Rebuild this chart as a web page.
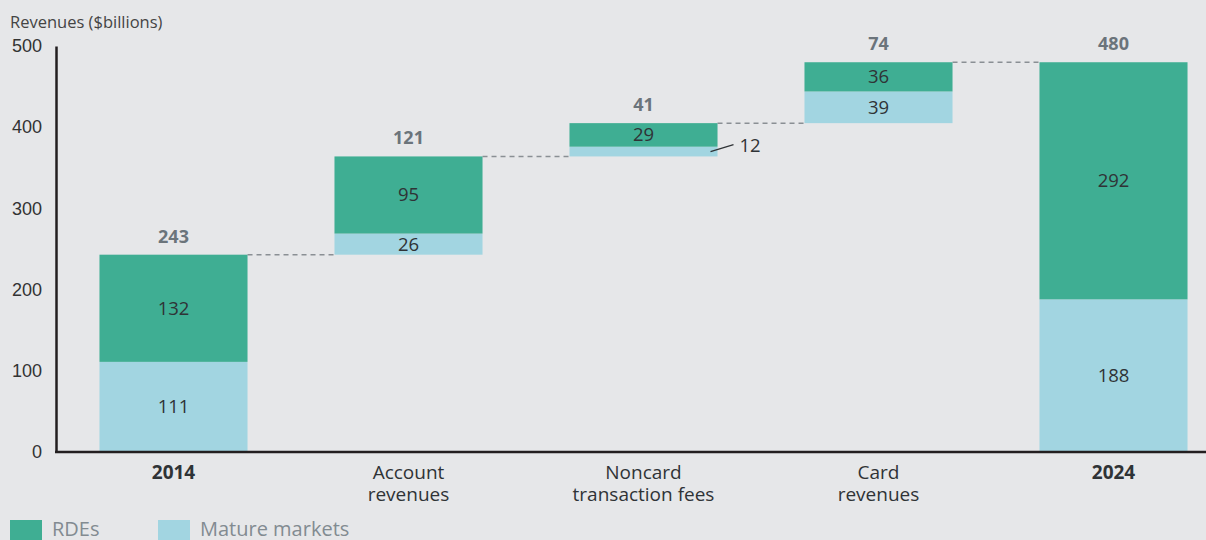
<!DOCTYPE html>
<html>
<head>
<meta charset="utf-8">
<script src="https://cdn.jsdelivr.net/npm/d3@7"></script>
<style>
  body { margin: 0; background: #e6e7e9; }
  svg { display: block; font-family: 'Open Sans', 'Noto Sans', sans-serif; }
</style>
</head>
<body>
<div id="chart"></div>
<script>
// data
let categories = ['2014', 'Account\nrevenues', 'Noncard\ntransaction fees', 'Card\nrevenues', '2024']
let boldCats = ['2014', '2024']
let mature = [111, 26, 12, 39, 188]
let rdes = [132, 95, 29, 36, 292]
let totals = [243, 121, 41, 74, 480]
// waterfall bases (start of each step)
let bases = [0, 243, 364, 405, 0]
let yTicks = [0, 100, 200, 300, 400, 500]

let width = 1206
let height = 540
let margin = { top: 46, left: 56, right: 0, bottom: 88 }

let green = '#3fae93'
let blue = '#a2d5e1'

let svg = d3
  .select('#chart')
  .append('svg')
  .attr('width', width)
  .attr('height', height)

svg.append('rect').attr('width', width).attr('height', height).attr('fill', '#e6e7e9')

let xPositionScale = d3
  .scaleBand()
  .domain(categories)
  .range([margin.left, margin.left + 5 * 235])
  .paddingInner(0.37)
  .paddingOuter(0.185)

let yPositionScale = d3
  .scaleLinear()
  .domain([0, 500])
  .range([height - margin.bottom, margin.top])

// title
svg
  .append('text')
  .attr('x', 10)
  .attr('y', 28)
  .attr('font-size', 16.5)
  .attr('fill', '#444')
  .text('Revenues ($billions)')

let rows = categories.map((c, i) => ({
  cat: c,
  base: bases[i],
  mature: mature[i],
  rdes: rdes[i],
  total: totals[i]
}))

// dashed connectors
for (let i = 0; i < rows.length - 1; i++) {
  let top = rows[i].base + rows[i].mature + rows[i].rdes
  svg
    .append('line')
    .attr('x1', xPositionScale(rows[i].cat) + xPositionScale.bandwidth())
    .attr('x2', xPositionScale(rows[i + 1].cat))
    .attr('y1', yPositionScale(top))
    .attr('y2', yPositionScale(top))
    .attr('stroke', '#8a8f94')
    .attr('stroke-width', 1.5)
    .attr('stroke-dasharray', '5,4')
}

// mature segments
svg
  .selectAll('.mature')
  .data(rows)
  .enter()
  .append('rect')
  .attr('class', 'mature')
  .attr('x', d => xPositionScale(d.cat))
  .attr('width', xPositionScale.bandwidth())
  .attr('y', d => yPositionScale(d.base + d.mature))
  .attr('height', d => yPositionScale(d.base) - yPositionScale(d.base + d.mature))
  .attr('fill', blue)

// RDE segments
svg
  .selectAll('.rdes')
  .data(rows)
  .enter()
  .append('rect')
  .attr('class', 'rdes')
  .attr('x', d => xPositionScale(d.cat))
  .attr('width', xPositionScale.bandwidth())
  .attr('y', d => yPositionScale(d.base + d.mature + d.rdes))
  .attr('height', d => yPositionScale(d.base + d.mature) - yPositionScale(d.base + d.mature + d.rdes))
  .attr('fill', green)

let cx = d => xPositionScale(d.cat) + xPositionScale.bandwidth() / 2

// inside labels
svg
  .selectAll('.rde-label')
  .data(rows)
  .enter()
  .append('text')
  .attr('x', cx)
  .attr('y', d => yPositionScale(d.base + d.mature + d.rdes / 2))
  .attr('dy', '0.35em')
  .attr('text-anchor', 'middle')
  .attr('font-size', 18.5)
  .attr('fill', '#2f3336')
  .text(d => d.rdes)

svg
  .selectAll('.mature-label')
  .data(rows.filter(d => d.mature > 15))
  .enter()
  .append('text')
  .attr('x', cx)
  .attr('y', d => yPositionScale(d.base + d.mature / 2))
  .attr('dy', '0.35em')
  .attr('text-anchor', 'middle')
  .attr('font-size', 18.5)
  .attr('fill', '#2f3336')
  .text(d => d.mature)

// small segment label with leader line
rows
  .filter(d => d.mature <= 15)
  .forEach(d => {
    let right = xPositionScale(d.cat) + xPositionScale.bandwidth()
    let ym = yPositionScale(d.base + d.mature / 2)
    svg
      .append('line')
      .attr('x1', right - 7)
      .attr('y1', ym)
      .attr('x2', right + 16)
      .attr('y2', ym - 7)
      .attr('stroke', '#2f3336')
      .attr('stroke-width', 1.3)
    svg
      .append('text')
      .attr('x', right + 22)
      .attr('y', ym - 6)
      .attr('dy', '0.35em')
      .attr('font-size', 18.5)
      .attr('fill', '#2f3336')
      .text(d.mature)
  })

// totals
svg
  .selectAll('.total')
  .data(rows)
  .enter()
  .append('text')
  .attr('x', cx)
  .attr('y', d => yPositionScale(d.base + d.mature + d.rdes) - 12)
  .attr('text-anchor', 'middle')
  .attr('font-size', 18)
  .attr('font-weight', 'bold')
  .attr('fill', '#6b747b')
  .text(d => d.total)

// y axis
let yAxis = d3
  .axisLeft(yPositionScale)
  .tickValues(yTicks)
  .tickSize(0)
  .tickPadding(14)
svg
  .append('g')
  .attr('class', 'axis y-axis')
  .attr('transform', 'translate(' + margin.left + ',0)')
  .call(yAxis)
  .call(g => g.select('.domain').attr('stroke', '#231f20').attr('stroke-width', 2.5))
  .call(g => g.selectAll('text').attr('font-size', 18).attr('fill', '#333').attr('font-family', null))

// baseline
svg
  .append('line')
  .attr('x1', margin.left - 1)
  .attr('x2', width)
  .attr('y1', yPositionScale(0))
  .attr('y2', yPositionScale(0))
  .attr('stroke', '#231f20')
  .attr('stroke-width', 2.5)

// x labels, one text per line
categories.forEach(c => {
  c.split('\n').forEach((t, i) => {
    svg
      .append('text')
      .attr('class', 'x-label')
      .attr('x', xPositionScale(c) + xPositionScale.bandwidth() / 2)
      .attr('y', 479 + i * 22)
      .attr('text-anchor', 'middle')
      .attr('font-size', 19)
      .attr('fill', '#2f3336')
      .attr('font-weight', boldCats.includes(c) ? 'bold' : 'normal')
      .text(t)
  })
})

// legend
let legend = [
  { label: 'RDEs', color: green, x: 10 },
  { label: 'Mature markets', color: blue, x: 158 }
]
legend.forEach(l => {
  svg
    .append('rect')
    .attr('x', l.x)
    .attr('y', 520)
    .attr('width', 32)
    .attr('height', 22)
    .attr('fill', l.color)
  svg
    .append('text')
    .attr('x', l.x + 42)
    .attr('y', 536)
    .attr('font-size', 20)
    .attr('fill', '#828b91')
    .text(l.label)
})
</script>
</body>
</html>
